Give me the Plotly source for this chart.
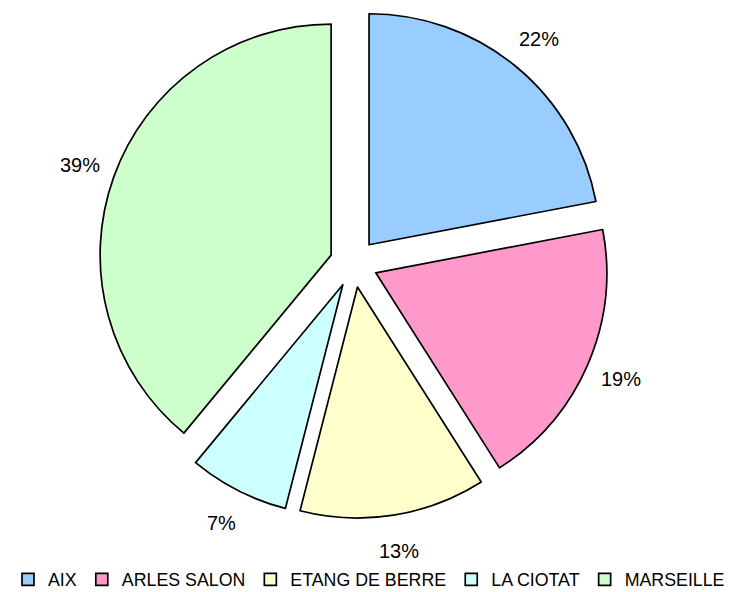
import math
import plotly.graph_objects as go

labels = ["AIX", "ARLES SALON", "ETANG DE BERRE", "LA CIOTAT", "MARSEILLE"]
values = [22, 19, 13, 7, 39]
colors = ["#99CCFF", "#FF99CC", "#FFFFCC", "#CCFFFF", "#CCFFCC"]

W, H = 725, 592
font_family = "Liberation Sans, Arial, sans-serif"
pull = 0.104

# pie domain (paper fractions)
dom_x = [0.1251, 0.8286]
dom_y = [0.1378, 0.9998]

fig = go.Figure(go.Pie(
    labels=labels,
    values=values,
    sort=False,
    direction="clockwise",
    rotation=0,
    pull=[pull] * len(values),
    marker=dict(colors=colors, line=dict(color="#000000", width=1.7)),
    textinfo="none",
    domain=dict(x=dom_x, y=dom_y),
    hoverinfo="label+percent",
))

# percentage labels placed outside each slice, along its mid angle
cx_px = W * (dom_x[0] + dom_x[1]) / 2
cy_px = H * (1 - (dom_y[0] + dom_y[1]) / 2)
label_r = 291
total = sum(values)
cum = 0
for v in values:
    mid = 2 * math.pi * (cum + v / 2) / total
    cum += v
    px = cx_px + label_r * math.sin(mid)
    py = cy_px - label_r * math.cos(mid)
    fig.add_annotation(
        x=px / W, y=1 - py / H, xref="paper", yref="paper",
        text=f"{round(100 * v / total)}%", showarrow=False,
        xanchor="center", yanchor="middle",
        font=dict(family=font_family, size=20, color="#000000"),
    )

fig.update_layout(
    width=W,
    height=H,
    margin=dict(l=0, r=0, t=0, b=0, autoexpand=False),
    paper_bgcolor="#FFFFFF",
    plot_bgcolor="#FFFFFF",
    font=dict(family=font_family, color="#000000"),
    showlegend=True,
    legend=dict(
        orientation="h",
        xref="container",
        yref="container",
        x=0,
        xanchor="left",
        y=0.003,
        yanchor="bottom",
        font=dict(family=font_family, size=17.8, color="#000000"),
        itemwidth=30,
        bgcolor="rgba(0,0,0,0)",
    ),
)

fig.write_html("out.html")
